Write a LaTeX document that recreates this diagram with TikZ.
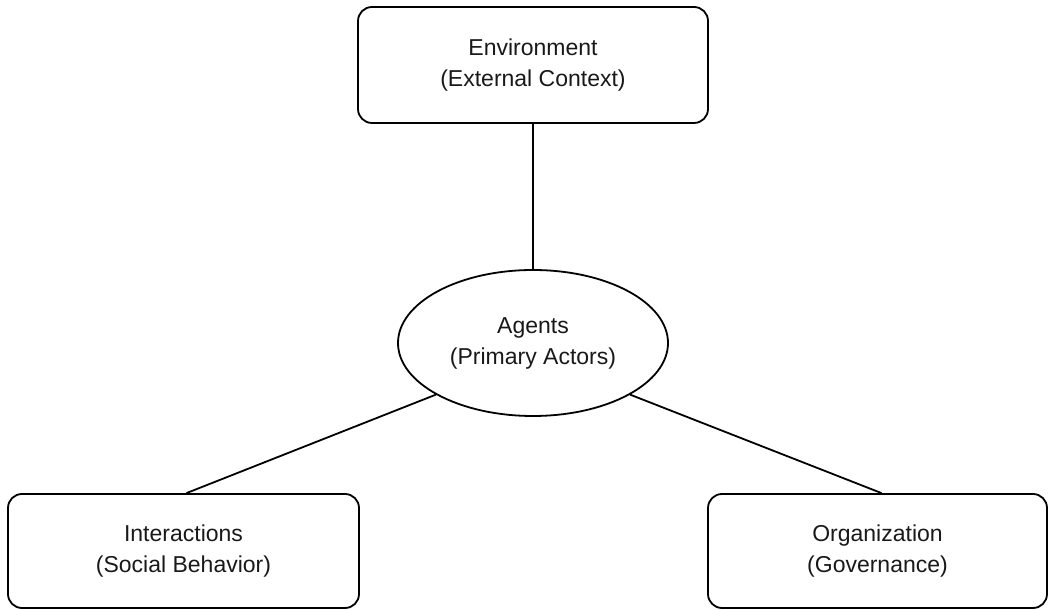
\documentclass[tikz,border=0pt]{standalone}
\usepackage{fontspec}
\setmainfont{Liberation Sans}
\usetikzlibrary{shapes.geometric}
\begin{document}
\begin{tikzpicture}[x=1pt,y=1pt,
  box/.style={draw=black, line width=1.8pt, rounded corners=14pt, align=center,
    inner sep=0pt, font=\fontsize{23}{31}\selectfont, text=black!90},
  ell/.style={draw=black, line width=1.8pt, ellipse, inner sep=0pt, align=center,
    font=\fontsize{23}{31}\selectfont, text=black!90},
  link/.style={draw=black, line width=1.8pt}]
\useasboundingbox (0,0) rectangle (1049,610);
\node[box, minimum width=350pt, minimum height=116pt] (env) at (533,545) {Environment\\(External Context)};
\node[ell, minimum width=270pt, minimum height=146pt] (ag) at (533,267) {Agents\\(Primary Actors)};
\node[box, minimum width=351pt, minimum height=114pt] (int) at (183.5,59) {Interactions\\(Social Behavior)};
\node[box, minimum width=339pt, minimum height=114pt] (org) at (877.5,59) {Organization\\(Governance)};
\draw[link] (env.south) -- (ag.north);
\draw[link] (ag.208) -- ([xshift=3pt]int.north);
\draw[link] (ag.332) -- ([xshift=4pt]org.north);
\end{tikzpicture}
\end{document}
